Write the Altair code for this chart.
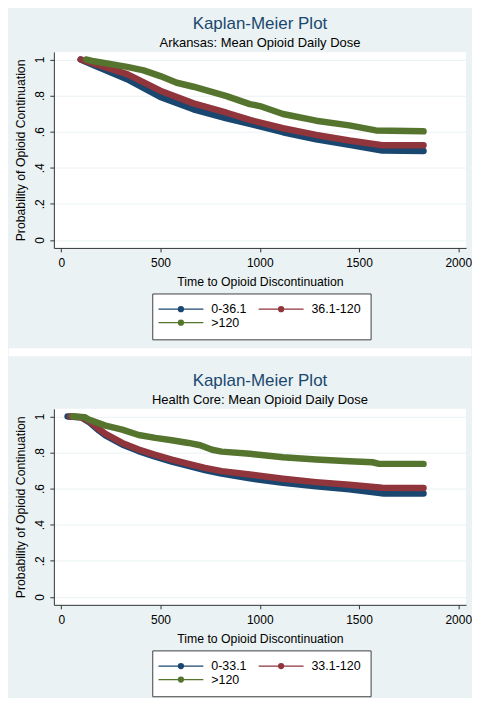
import altair as alt
import pandas as pd

BG = "#eaf2f3"
NAVY = "#1a476f"
MAROON = "#90353b"
GREEN = "#55752f"
FONT = "Liberation Sans"

# ---- Panel 1: Arkansas ----
ar_groups = ["0-36.1", "36.1-120", ">120"]
ar_low_t = [98, 165, 332, 499, 666, 833, 950, 1117, 1284, 1451, 1617, 1825]
ar_low_s = [1.0, 0.968, 0.891, 0.793, 0.724, 0.674, 0.643, 0.597, 0.558, 0.527, 0.495, 0.493]
ar_mid_t = [98, 165, 332, 499, 666, 833, 950, 1117, 1284, 1451, 1617, 1825]
ar_mid_s = [1.0, 0.977, 0.919, 0.827, 0.757, 0.705, 0.665, 0.619, 0.582, 0.551, 0.525, 0.525]
ar_high_t = [125, 165, 332, 415, 499, 582, 666, 833, 950, 1000, 1117, 1284, 1451, 1585, 1825]
ar_high_s = [1.0, 0.99, 0.959, 0.94, 0.908, 0.871, 0.849, 0.797, 0.753, 0.742, 0.698, 0.661, 0.635, 0.607, 0.602]

# ---- Panel 2: Health Core ----
hc_groups = ["0-33.1", "33.1-120", ">120"]
hc_low_t = [32, 100, 139, 190, 223, 307, 390, 474, 557, 641, 724, 808, 950, 1117, 1284, 1451, 1585, 1625, 1825]
hc_low_s = [1.0, 0.995, 0.970, 0.922, 0.895, 0.845, 0.808, 0.777, 0.750, 0.726, 0.703, 0.683, 0.657, 0.632, 0.613, 0.596, 0.578, 0.573, 0.573]
hc_mid_t = [45, 100, 139, 190, 223, 307, 390, 474, 557, 641, 724, 808, 950, 1117, 1284, 1451, 1617, 1825]
hc_mid_s = [1.0, 0.995, 0.975, 0.930, 0.903, 0.853, 0.816, 0.787, 0.761, 0.737, 0.715, 0.697, 0.678, 0.655, 0.636, 0.621, 0.605, 0.603]
hc_high_t = [57, 120, 139, 223, 307, 390, 474, 557, 641, 700, 760, 808, 950, 1117, 1284, 1451, 1568, 1601, 1825]
hc_high_s = [1.0, 0.995, 0.982, 0.949, 0.927, 0.897, 0.881, 0.868, 0.853, 0.840, 0.815, 0.805, 0.793, 0.774, 0.761, 0.752, 0.746, 0.737, 0.737]

x_ticks = [0, 500, 1000, 1500, 2000]
y_ticks = [0, 0.2, 0.4, 0.6, 0.8, 1]

W, H = 413.4, 196.6


def circle(r):
    return f"M-{r},0A{r},{r} 0 1 1 {r},0A{r},{r} 0 1 1 -{r},0"


# legend key: a line with a dot (symbol size 100 -> 5px per path unit)
PATH = "M-4.5,0L4.5,0" + "".join(circle(r) for r in (0.1, 0.3, 0.5))


def build_df(groups, series):
    rows = []
    for g, (ts, ss) in zip(groups, series):
        for t, s in zip(ts, ss):
            rows.append({"t": t, "s": s, "g": g})
    return pd.DataFrame(rows)


def panel(groups, series, subtitle, extra):
    df = build_df(groups, series)
    lines = alt.Chart(df).mark_line(
        strokeWidth=6.5, strokeCap="round", strokeJoin="round"
    ).encode(
        x=alt.X("t:Q", scale=alt.Scale(domain=[-37, 2039], nice=False, zero=False),
                axis=alt.Axis(values=x_ticks, title="Time to Opioid Discontinuation",
                              grid=False, format="d")),
        y=alt.Y("s:Q", scale=alt.Scale(domain=[-0.044, 1.042], nice=False, zero=False),
                axis=alt.Axis(values=y_ticks, title="Probability of Opioid Continuation",
                              grid=True,
                              labelExpr="datum.value == 0 ? '0' : datum.value == 1 ? '1' : replace(format(datum.value, '.1f'), '0.', '.')",
                              labelAngle=270, labelAlign="center", labelBaseline="bottom")),
        color=alt.Color("g:N", scale=alt.Scale(domain=groups, range=[NAVY, MAROON, GREEN]),
                        legend=alt.Legend(
                            orient="none", legendX=98.7, legendY=242.3, columns=2,
                            direction="horizontal",
                            title=None, symbolType=PATH, symbolSize=100,
                            symbolOffset=13.15,
                            symbolStrokeWidth=1.3, labelFont=FONT, labelFontSize=12.5,
                            labelColor="black", labelOffset=24.15, columnPadding=8.5,
                            rowPadding=0.7, padding=9.35, fillColor="white",
                            strokeColor="#404040")),
        detail="g:N",
    )
    return alt.layer(*extra, lines).properties(
        width=W, height=H,
        title=alt.TitleParams(
            text="Kaplan-Meier Plot", subtitle=subtitle, anchor="middle",
            frame="group", font=FONT, fontSize=17, fontWeight="normal",
            color=NAVY, subtitleFont=FONT, subtitleFontSize=13,
            subtitleColor="black", subtitlePadding=4, offset=0.5),
    )


one = pd.DataFrame({"a": [0]})
gap = alt.Chart(one).mark_rect(color="white").encode(
    x=alt.value(-45.3), x2=alt.value(418.7), y=alt.value(297.3), y2=alt.value(305.3))
extent = alt.Chart(one).mark_rect(opacity=0).encode(
    x=alt.value(-45.3), x2=alt.value(418.7), y=alt.value(0), y2=alt.value(288.7))

top = panel(ar_groups, [(ar_low_t, ar_low_s), (ar_mid_t, ar_mid_s), (ar_high_t, ar_high_s)],
            "Arkansas: Mean Opioid Daily Dose", [gap])
bottom = panel(hc_groups, [(hc_low_t, hc_low_s), (hc_mid_t, hc_mid_s), (hc_high_t, hc_high_s)],
               "Health Core: Mean Opioid Daily Dose", [extent])

chart = alt.vconcat(top, bottom, spacing=161, bounds="flush").resolve_scale(
    color="independent"
).properties(
    background=BG,
    padding={"left": 0, "top": 6, "right": 0, "bottom": 0},
).configure_view(
    fill="white", stroke=None
).configure_axis(
    labelFont=FONT, titleFont=FONT, labelFontSize=12, titleFontSize=12.3,
    titleFontWeight="normal", labelColor="black", titleColor="black",
    domainColor="#333333", tickColor="#333333", tickSize=4, labelPadding=3.5,
    gridColor=BG, gridWidth=1, domainWidth=1, tickWidth=1
).configure_axisY(
    titlePadding=6, labelPadding=3.6
).configure_axisX(
    titlePadding=7, labelPadding=6
)

chart.save("out.html", embed_options={"renderer": "svg", "actions": False})
